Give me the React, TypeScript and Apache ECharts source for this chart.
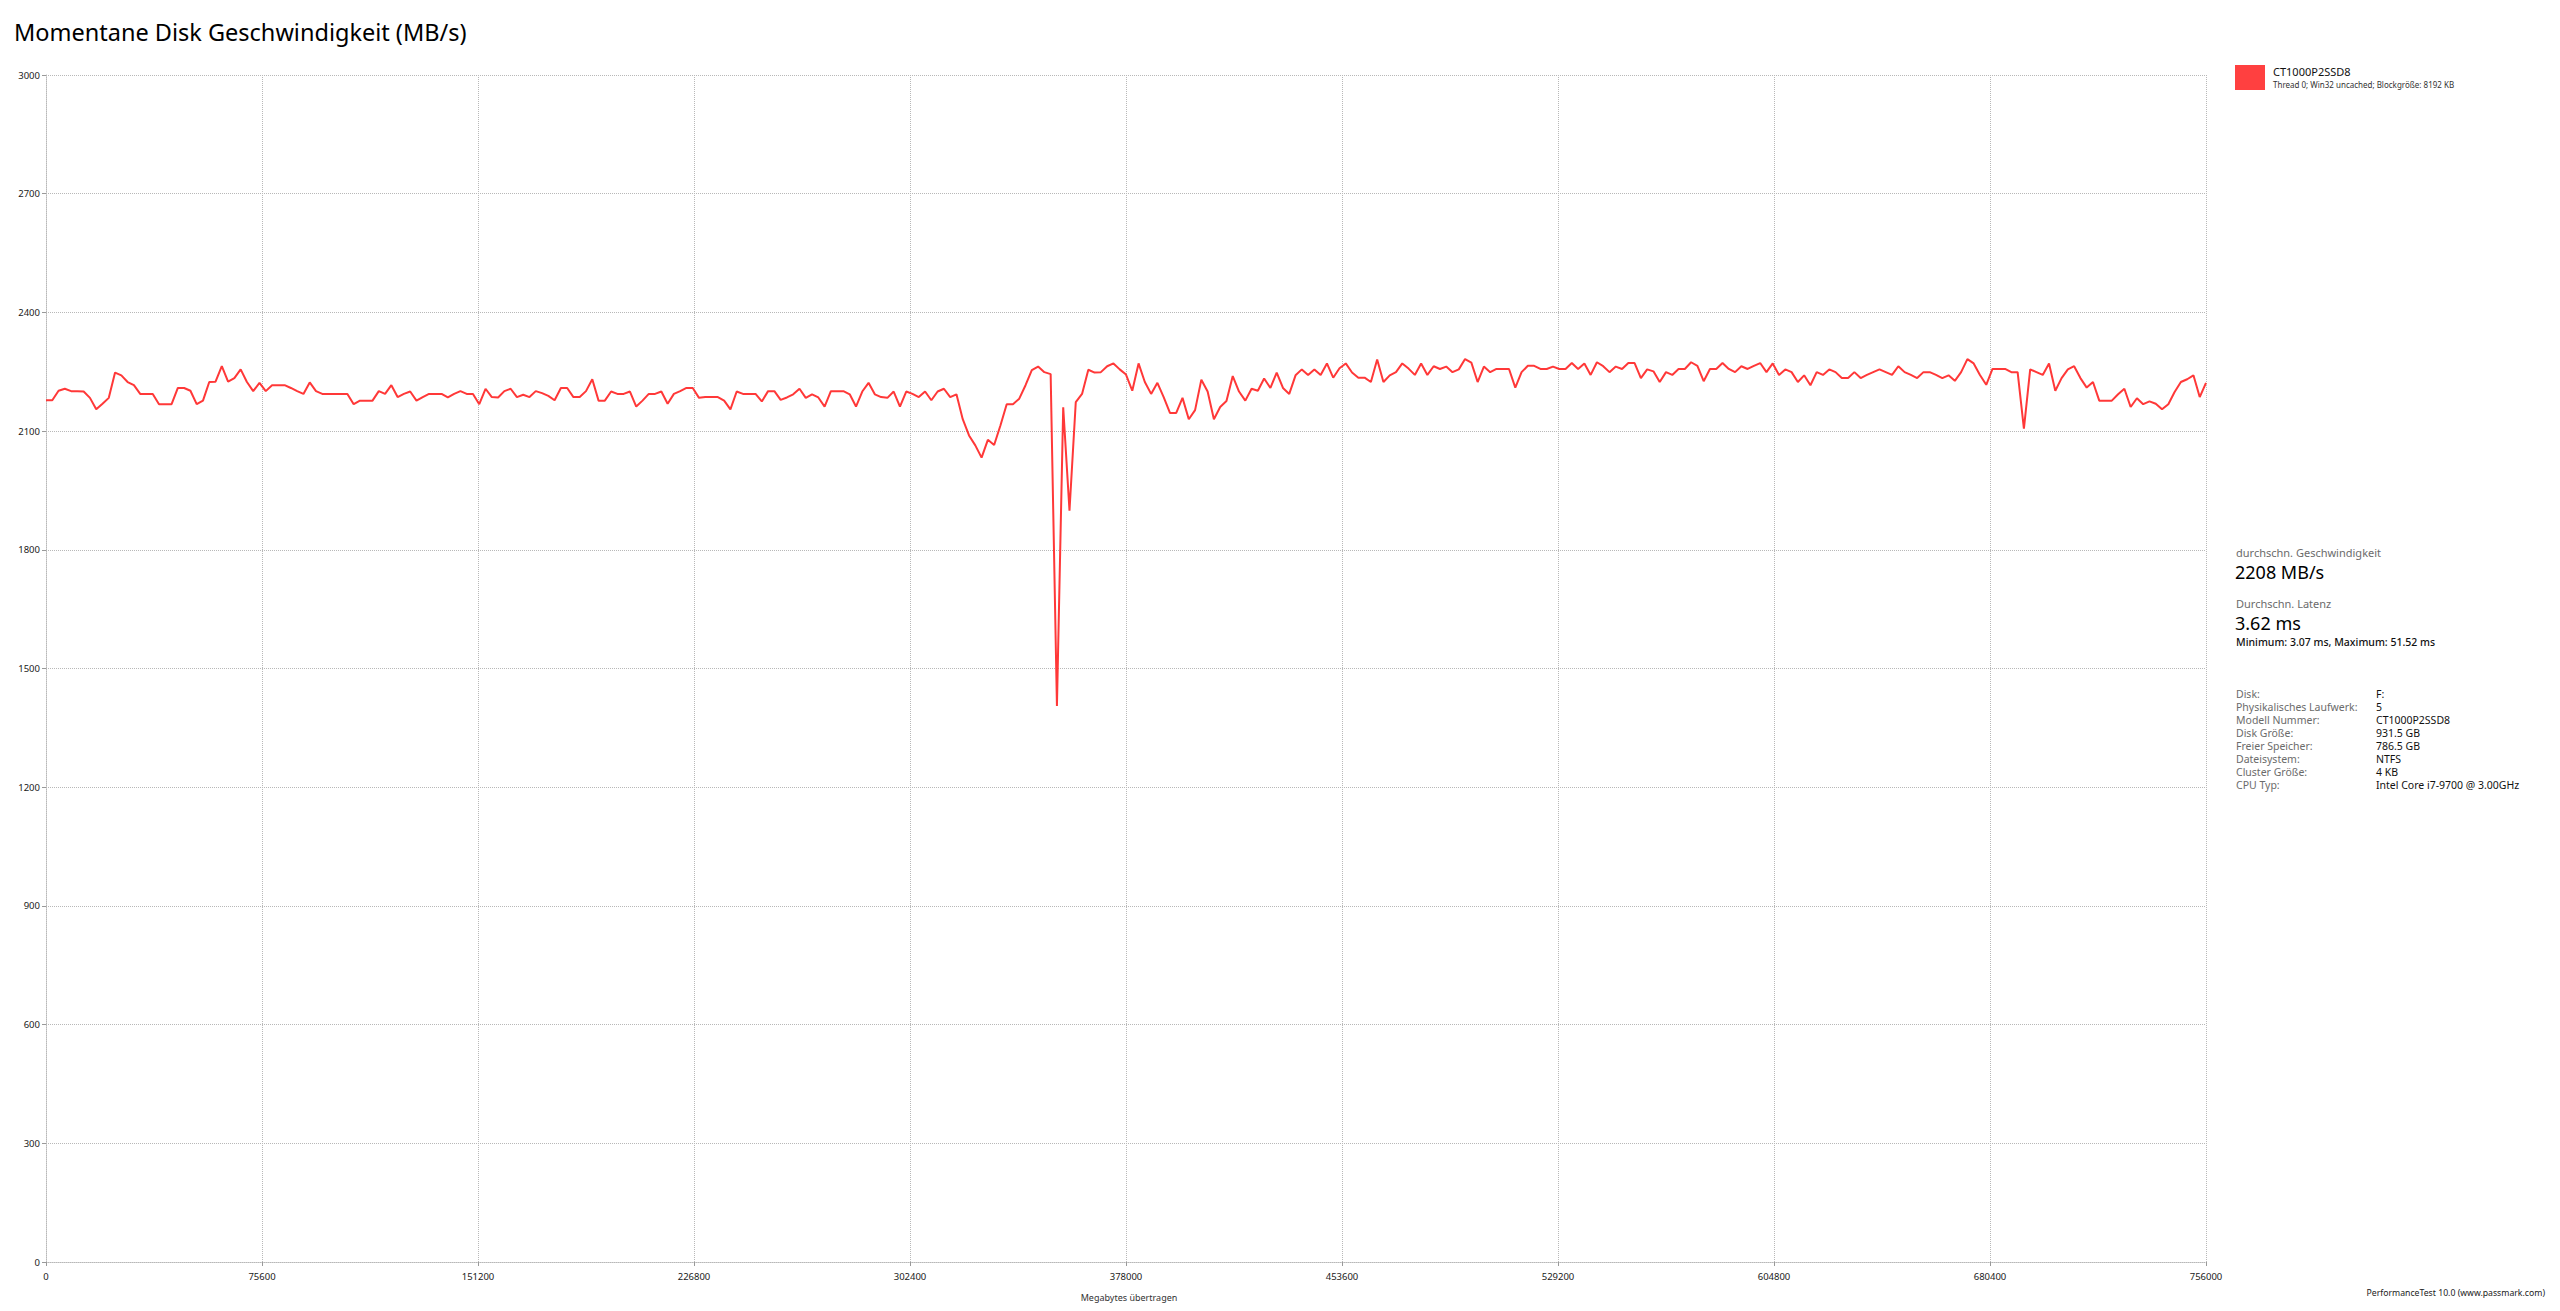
import React, { useEffect, useRef } from "react";
import * as echarts from "echarts";

const TITLE = "Momentane Disk Geschwindigkeit (MB/s)";
const SERIES_NAME = "CT1000P2SSD8";
const SERIES_DETAIL = "Thread 0; Win32 uncached; Blockgröße: 8192 KB";
const X_AXIS_NAME = "Megabytes übertragen";
const CREDIT = "PerformanceTest 10.0 (www.passmark.com)";

const X_MAX = 756000;
const X_INTERVAL = 75600;
const Y_MAX = 3000;
const Y_INTERVAL = 300;

// Instantaneous speed samples (MB/s), evenly spaced over the transferred megabytes
const speedsA = [
  2178, 2178, 2202, 2207, 2201, 2201, 2200, 2184, 2155, 2169,
  2184, 2248, 2241, 2224, 2216, 2194, 2194, 2194, 2168, 2168,
  2168, 2209, 2209, 2202, 2168, 2177, 2224, 2225, 2264, 2225,
  2234, 2256, 2224, 2201, 2222, 2201, 2216, 2216, 2216, 2209,
  2201, 2194, 2223, 2201, 2194, 2194, 2194, 2194, 2194, 2168,
  2177, 2177, 2177, 2201, 2194, 2216, 2186, 2194, 2200, 2177,
  2186, 2194, 2194, 2194, 2185, 2194, 2201, 2194, 2194, 2168,
  2207, 2186, 2185, 2201, 2207, 2186, 2192, 2186, 2201, 2196,
  2189, 2178, 2209, 2209, 2186, 2186, 2201, 2231,
];
const speedsB = [
  2177, 2177, 2200, 2194, 2194, 2200, 2162, 2177, 2194, 2194,
  2200, 2169, 2194, 2201, 2209, 2209, 2184, 2186, 2186, 2186,
  2177, 2155, 2200, 2194, 2194, 2194, 2175, 2201, 2201, 2179,
  2185, 2193, 2207, 2184, 2193, 2185, 2162, 2201, 2201, 2201,
  2193, 2162, 2200, 2222, 2193, 2186, 2184, 2200, 2162, 2200,
  2194, 2186, 2200, 2178, 2200, 2207, 2186, 2193, 2130, 2089,
  2064, 2033, 2078, 2065, 2114, 2168, 2168, 2182, 2216, 2254,
  2263, 2249, 2244, 1405, 2160, 1899, 2173, 2194, 2255, 2248,
  2249, 2264, 2271, 2256, 2243, 2202,
];
const speedsC = [
  2271, 2224, 2194, 2222, 2186, 2146, 2146, 2184, 2130, 2153,
  2230, 2200, 2130, 2161, 2176, 2239, 2200, 2177, 2207, 2202,
  2233, 2209, 2248, 2209, 2194, 2241, 2256, 2242, 2256, 2242,
  2271, 2235, 2259, 2271, 2248, 2235, 2235, 2224, 2281, 2224,
  2241, 2249, 2271, 2258, 2242, 2271, 2242, 2264, 2257, 2263,
  2249, 2256, 2282, 2273, 2224, 2263, 2249, 2257, 2257, 2257,
  2210, 2249, 2265, 2265, 2257, 2257, 2263, 2257, 2257, 2272,
  2257, 2271, 2242, 2274, 2264, 2249, 2263, 2257, 2272, 2272,
  2234, 2256, 2251, 2224, 2249,
];
const speedsD = [
  2242, 2257, 2257, 2274, 2265, 2226, 2257, 2257, 2272, 2257,
  2249, 2264, 2257, 2265, 2272, 2249, 2271, 2242, 2256, 2249,
  2224, 2241, 2216, 2249, 2242, 2256, 2249, 2234, 2234, 2249,
  2234, 2242, 2249, 2256, 2249, 2242, 2264, 2249, 2242, 2234,
  2249, 2249, 2242, 2234, 2241, 2227, 2249, 2282, 2271, 2242,
  2217, 2257, 2257, 2257, 2249, 2249, 2106, 2256, 2249, 2242,
  2271, 2202, 2234, 2256, 2264, 2234, 2210, 2224, 2177, 2177,
  2177, 2193, 2207, 2161, 2183, 2168, 2175, 2169, 2155, 2168,
  2199, 2224, 2231, 2241, 2186, 2222,
];

const statLabels = ["durchschn. Geschwindigkeit", "Durchschn. Latenz"];
const statValues = ["2208 MB/s", "3.62 ms"];
const latencyRange = "Minimum: 3.07 ms, Maximum: 51.52 ms";

const infoLabels = [
  "Disk:",
  "Physikalisches Laufwerk:",
  "Modell Nummer:",
  "Disk Größe:",
  "Freier Speicher:",
  "Dateisystem:",
  "Cluster Größe:",
  "CPU Typ:",
];
const infoValues = [
  "F:",
  "5",
  "CT1000P2SSD8",
  "931.5 GB",
  "786.5 GB",
  "NTFS",
  "4 KB",
  "Intel Core i7-9700 @ 3.00GHz",
];

const FONT = '"Noto Sans", "Open Sans", sans-serif';
const GRID_COLOR = "#b8b8b8";
const LABEL_COLOR = "#6b6b6b";

function txt(text: string, x: number, y: number, size: number, fill: string, align = "left", weight = "normal") {
  return {
    type: "text",
    x,
    y,
    silent: true,
    style: {
      text,
      fill,
      font: `${weight} ${size}px ${FONT}`,
      textAlign: align,
      textVerticalAlign: "middle",
    },
  };
}

export default function App() {
  const ref = useRef<HTMLDivElement>(null);

  useEffect(() => {
    document.body.style.margin = "0";
    if (!ref.current) return;
    const chart = echarts.init(ref.current, undefined, { renderer: "svg" });

    const speeds = [...speedsA, ...speedsB, ...speedsC, ...speedsD];
    const step = X_MAX / (speeds.length - 1);
    const data = speeds.map((v, i) => [i * step, v]);

    const graphic: any[] = [];
    graphic.push(txt(statLabels[0], 2236, 552, 11, LABEL_COLOR));
    graphic.push(txt(statValues[0], 2235, 572, 18, "#000"));
    graphic.push(txt(statLabels[1], 2236, 603, 11, LABEL_COLOR));
    graphic.push(txt(statValues[1], 2235, 623, 18, "#000"));
    graphic.push(txt(latencyRange, 2236, 642, 10.5, "#111", "left", "500"));
    infoLabels.forEach((l, k) => {
      graphic.push(txt(l, 2236, 694 + 13 * k, 10.5, LABEL_COLOR));
      graphic.push(txt(infoValues[k], 2376, 694 + 13 * k, 10.5, "#111"));
    });
    graphic.push(txt(CREDIT, 2545, 1293, 8.7, "#222", "right"));

    const axisLineStyle = { color: GRID_COLOR, type: "dotted", width: 1 };

    chart.setOption({
      animation: false,
      backgroundColor: "#ffffff",
      textStyle: { fontFamily: FONT },
      title: {
        text: TITLE,
        left: 14,
        top: 20,
        padding: 0,
        textStyle: { fontSize: 23.5, fontWeight: "normal", color: "#000", fontFamily: FONT },
      },
      legend: {
        show: true,
        left: 2235,
        top: 65,
        padding: 0,
        orient: "vertical",
        icon: "rect",
        itemWidth: 30,
        itemHeight: 25,
        selectedMode: false,
        data: [SERIES_NAME],
        formatter: (name: string) => `{a|${name}}\n{b|${SERIES_DETAIL}}`,
        textStyle: {
          rich: {
            a: { fontSize: 11, color: "#111", lineHeight: 14, fontFamily: FONT, padding: [0, 0, 0, 3] },
            b: { fontSize: 8, color: "#333", lineHeight: 13, fontFamily: FONT, padding: [0, 0, 0, 3] },
          },
        },
      },
      grid: { left: 46, right: 354, top: 75, bottom: 49, containLabel: false },
      xAxis: {
        type: "value",
        min: 0,
        max: X_MAX,
        interval: X_INTERVAL,
        name: X_AXIS_NAME,
        nameLocation: "middle",
        nameGap: 31,
        nameTextStyle: { fontSize: 9, color: "#333", fontFamily: FONT, padding: [0, 0, 0, 6] },
        axisLine: { show: true, lineStyle: axisLineStyle },
        axisTick: { show: true, length: 4, lineStyle: { color: "#999" } },
        axisLabel: {
          fontSize: 9.5,
          color: "#1a1a1a",
          margin: 9,
          fontFamily: FONT,
          formatter: (v: number) => String(v),
        },
        splitLine: { show: true, lineStyle: axisLineStyle },
      },
      yAxis: {
        type: "value",
        min: 0,
        max: Y_MAX,
        interval: Y_INTERVAL,
        axisLine: { show: true, lineStyle: axisLineStyle },
        axisTick: { show: true, length: 4, lineStyle: { color: "#999" } },
        axisLabel: {
          fontSize: 9.5,
          color: "#1a1a1a",
          margin: 6,
          fontFamily: FONT,
          formatter: (v: number) => String(v),
        },
        splitLine: { show: true, lineStyle: axisLineStyle },
      },
      tooltip: { show: false },
      series: [
        {
          type: "line",
          name: SERIES_NAME,
          data,
          symbol: "none",
          showSymbol: false,
          silent: true,
          lineStyle: { color: "#ff3838", width: 2 },
          itemStyle: { color: "#ff4040" },
        },
      ],
      graphic,
    });

    return () => chart.dispose();
  }, []);

  return (
    <div style={{ position: "fixed", left: 0, top: 0, width: "2560px", height: "1311px", margin: 0 }}>
      <div ref={ref} style={{ width: "2560px", height: "1311px", background: "#fff" }} />
    </div>
  );
}
